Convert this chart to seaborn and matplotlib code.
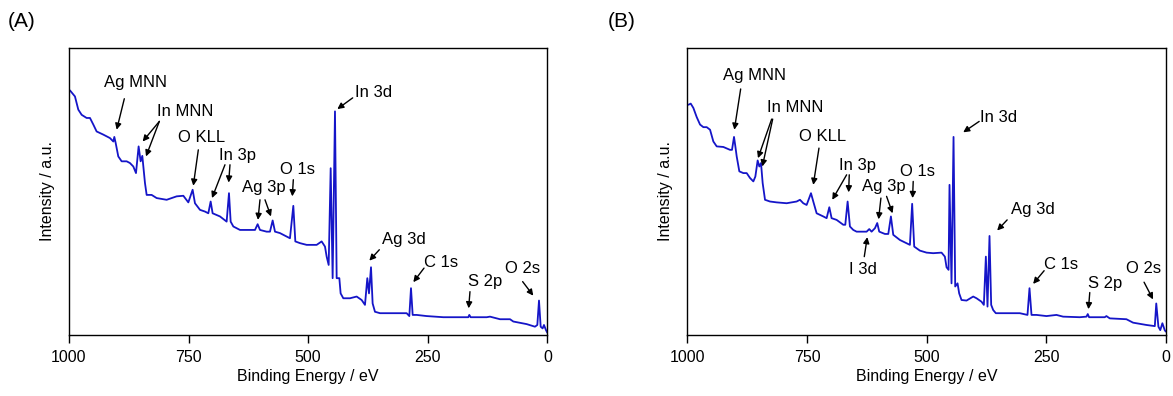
#XPS survey spectra (A) y (B) con seaborn

import pandas as pd
import seaborn as sns
import matplotlib.pyplot as plt

# espectro A: energia de enlace (eV) e intensidad (u.a.)
energy_a = [997.9, 987.5, 980.5, 973.5, 963.1, 956.1, 949.1, 942.2, 928.2, 914.3,
            907.3, 905.2, 902.4, 896.9, 889.9, 879.4, 872.5, 865.5, 859.9, 854.4,
            850.2, 846.7, 841.1, 837.6, 827.2, 816.7, 795.8, 774.9, 760.9, 750.5,
            741.5, 736.6, 726.1, 715.7, 708.7, 703.8, 699.7, 684.3, 670.4, 665.5,
            662.0, 656.4, 642.5, 628.6, 611.1, 605.6, 600.7, 586.8, 579.8, 574.2,
            569.3, 558.9, 538.0, 531.0, 526.8, 517.1, 503.1, 482.2, 471.8, 464.8,
            461.3, 457.1, 452.9, 448.8, 443.9, 440.4, 434.8, 432.1, 426.5, 412.5,
            398.6, 388.2, 381.2, 376.3, 372.8, 368.6, 365.2, 360.3, 349.8, 321.9,
            294.1, 288.5, 285.0, 281.5, 273.2, 252.3, 217.4, 182.6, 165.2, 163.1,
            160.3, 126.8, 119.9, 98.9, 78.0, 71.1, 43.2, 25.8, 20.9, 17.4,
            13.9, 9.8, 7.0, 2.8, 0.0]
counts_a = [85.2, 83.1, 78.5, 76.7, 75.6, 75.6, 73.3, 70.9, 69.8, 68.6,
            67.4, 69.0, 66.9, 62.2, 60.5, 60.5, 59.9, 58.7, 56.4, 65.7,
            60.5, 62.4, 52.9, 48.8, 48.8, 47.7, 47.1, 48.3, 48.5, 46.2,
            50.6, 45.9, 43.6, 43.0, 42.4, 46.5, 42.4, 41.3, 39.5, 49.4,
            39.5, 37.8, 36.6, 36.6, 36.6, 38.6, 36.6, 36.0, 36.0, 39.9,
            36.0, 35.5, 33.7, 45.0, 32.6, 32.0, 31.4, 31.4, 32.6, 30.8,
            27.3, 24.4, 58.1, 19.8, 77.9, 19.8, 19.8, 14.5, 12.8, 12.8,
            13.4, 12.2, 10.5, 19.8, 14.5, 23.6, 11.0, 8.1, 7.6, 7.6,
            7.6, 6.6, 16.3, 7.0, 7.0, 6.6, 6.2, 6.2, 6.2, 7.0,
            6.2, 6.2, 6.4, 5.5, 5.5, 4.7, 3.8, 2.9, 3.5, 12.0,
            2.9, 2.3, 3.5, 1.7, 0.8]

# espectro B
energy_b = [997.9, 993.0, 987.5, 980.5, 973.5, 966.6, 959.6, 952.6, 945.7, 938.7,
            924.8, 910.9, 906.7, 902.5, 899.7, 896.9, 891.4, 883.0, 876.0, 869.1,
            862.1, 857.9, 853.1, 849.6, 846.1, 842.6, 837.7, 827.3, 813.4, 792.5,
            771.6, 764.6, 757.7, 750.7, 741.6, 736.8, 729.8, 715.9, 708.9, 703.3,
            698.5, 688.0, 674.1, 669.9, 665.0, 660.2, 653.2, 646.2, 632.3, 625.3,
            619.8, 614.9, 607.9, 603.1, 598.9, 587.0, 580.0, 574.5, 569.6, 555.7,
            534.8, 530.1, 525.8, 514.0, 500.0, 486.1, 468.7, 461.7, 458.2, 454.0,
            452.0, 447.8, 443.6, 440.1, 435.2, 431.8, 426.9, 416.4, 402.5, 395.5,
            385.1, 380.2, 376.0, 372.6, 368.4, 364.9, 360.7, 355.2, 332.9, 305.0,
            289.0, 284.8, 280.6, 270.2, 249.3, 228.4, 214.5, 179.7, 165.7, 163.0,
            160.2, 127.4, 124.0, 117.0, 82.2, 68.2, 40.4, 22.8, 19.8, 15.3,
            11.4, 7.0, 2.1, 0.0]
counts_b = [80.2, 80.6, 79.1, 75.9, 73.3, 72.4, 72.4, 71.5, 67.4, 65.7,
            65.5, 64.5, 64.5, 69.0, 65.7, 62.2, 57.0, 56.4, 56.4, 54.7,
            53.5, 55.2, 60.8, 58.7, 59.9, 52.9, 47.1, 46.5, 46.2, 45.9,
            46.5, 47.1, 45.9, 45.3, 49.4, 46.5, 42.4, 41.3, 40.7, 44.5,
            40.7, 40.1, 38.4, 38.4, 46.5, 37.8, 36.6, 36.0, 36.0, 36.0,
            36.9, 36.0, 37.2, 39.0, 36.0, 35.2, 35.2, 41.3, 34.9, 33.1,
            31.4, 45.7, 30.8, 29.4, 28.7, 28.5, 28.7, 27.3, 23.6, 22.7,
            52.3, 18.0, 69.0, 16.9, 18.0, 14.5, 12.2, 12.0, 13.4, 12.8,
            11.6, 10.5, 27.3, 9.9, 34.5, 10.5, 8.7, 7.6, 7.6, 7.6,
            7.0, 16.3, 7.0, 7.0, 6.6, 7.0, 6.4, 6.2, 6.4, 7.3,
            6.2, 6.2, 6.6, 5.8, 5.5, 4.3, 3.5, 3.1, 11.0, 2.9,
            1.7, 4.1, 1.7, 1.2]

xticks = [1000, 750, 500, 250, 0]

# etiquetas: texto, posicion del texto, flechas (cola -> punta)
labels_a = [
    ("Ag MNN", (859.9, 88.0), [((884.3, 82.3), (900.3, 71.5))]),
    ("In MNN", (757.5, 77.9), [((811.1, 74.4), (846.0, 67.4)), ((811.1, 74.4), (839.0, 62.2))]),
    ("O KLL", (722.6, 68.8), [((729.6, 64.5), (740.1, 52.0))]),
    ("In 3p", (648.1, 62.4), [((673.9, 59.3), (701.0, 47.7)), ((663.4, 59.3), (666.2, 53.1))]),
    ("Ag 3p", (593.7, 51.4), [((600.7, 47.1), (604.9, 40.1)), ((590.2, 47.1), (577.7, 41.3))]),
    ("O 1s", (522.6, 57.6), [((531.0, 54.1), (533.1, 48.3))]),
    ("In 3d", (363.8, 84.5), [((406.9, 82.6), (439.0, 78.7))]),
    ("Ag 3d", (298.9, 33.4), [((351.2, 29.7), (372.1, 25.9))]),
    ("C 1s", (222.3, 25.2), [((257.8, 23.3), (280.1, 18.4))]),
    ("S 2p", (130.3, 18.6), [((161.7, 15.1), (164.5, 9.3))]),
    ("O 2s", (51.6, 23.3), [((51.6, 18.6), (29.3, 13.7))]),
]
labels_b = [
    ("Ag MNN", (860.7, 90.3), [((888.6, 85.7), (901.8, 71.5))]),
    ("In MNN", (773.7, 79.3), [((823.8, 75.2), (852.4, 61.6)), ((821.7, 75.2), (843.3, 58.7))]),
    ("O KLL", (717.3, 69.2), [((724.9, 65.1), (736.8, 52.3))]),
    ("In 3p", (644.2, 59.1), [((667.1, 55.8), (697.1, 47.1)), ((661.6, 55.8), (662.9, 49.7))]),
    ("Ag 3p", (588.4, 51.7), [((595.4, 47.7), (600.3, 40.3)), ((583.6, 48.3), (571.0, 42.4))]),
    ("O 1s", (518.1, 57.0), [((527.9, 53.5), (529.2, 47.7))]),
    ("I 3d", (632.3, 22.7), [((630.2, 27.3), (623.9, 34.1))]),
    ("In 3d", (348.9, 75.9), [((390.0, 74.4), (423.4, 70.6))]),
    ("Ag 3d", (278.6, 43.6), [((331.5, 40.1), (352.4, 36.4))]),
    ("C 1s", (219.4, 24.7), [((254.2, 22.4), (277.2, 17.8))]),
    ("S 2p", (126.0, 18.0), [((158.8, 14.8), (161.6, 9.0))]),
    ("O 2s", (45.3, 23.0), [((45.3, 18.4), (26.5, 12.4))]),
]

sns.set_theme(style="white")
plt.rcParams['font.family'] = ['Liberation Sans', 'DejaVu Sans']
plt.rcParams['text.color'] = 'black'
plt.rcParams['axes.labelcolor'] = 'black'
plt.rcParams['xtick.color'] = 'black'

fig = plt.figure(figsize=(11.73, 3.96), dpi=100)
ax_a = fig.add_axes([0.0588, 0.154, 0.4078, 0.725])
ax_b = fig.add_axes([0.586, 0.154, 0.4078, 0.725])

for ax, e, c, labs, tag, tx in [(ax_a, energy_a, counts_a, labels_a, "(A)", 0.007),
                                (ax_b, energy_b, counts_b, labels_b, "(B)", 0.518)]:
    df = pd.DataFrame({"E": e, "I": c})
    sns.lineplot(data=df, x="E", y="I", ax=ax, color="#1515c8", lw=1.3,
                 estimator=None, sort=False)
    ax.set_xlim(1000, 0)
    ax.set_ylim(0, 100)
    ax.set_xticks(xticks)
    ax.set_yticks([])
    ax.tick_params(axis="x", direction="out", length=6, width=1, color="black",
                   labelcolor="black", labelsize=11.5, pad=5, bottom=True)
    for s in ax.spines.values():
        s.set_color("black")
        s.set_linewidth(1)
    ax.set_xlabel("Binding Energy / eV", fontsize=11.5, labelpad=3)
    ax.set_ylabel("Intensity / a.u.", fontsize=11.5, labelpad=10)
    for txt, pos, arrows in labs:
        ax.text(pos[0], pos[1], txt, ha="center", va="center", fontsize=12, color="black")
        for tail, tip in arrows:
            ax.annotate("", xy=tip, xytext=tail,
                        arrowprops=dict(arrowstyle="-|>", color="black", lw=1,
                                        mutation_scale=9, shrinkA=0, shrinkB=0))
    fig.text(tx, 0.945, tag, fontsize=15, ha="left", va="center", color="black")

plt.savefig("out.png", dpi=100)
